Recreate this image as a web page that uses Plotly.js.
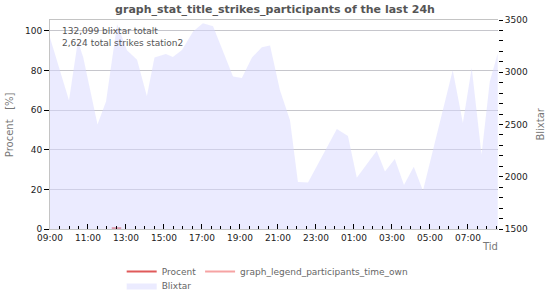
<!DOCTYPE html>
<html>
<head>
<meta charset="utf-8">
<script src="https://cdn.plot.ly/plotly-3.0.1.min.js"></script>
<style>html,body{margin:0;padding:0;background:#fff;}#chart{width:550px;height:300px;}</style>
</head>
<body>
<div id="chart"></div>
<script>
// Blixtar (strikes) over the last 24h, right axis
const blixtarTimes = [
  "2024-01-01 09:00","2024-01-01 10:00","2024-01-01 10:28","2024-01-01 10:45","2024-01-01 11:30",
  "2024-01-01 11:57","2024-01-01 12:32","2024-01-01 13:03","2024-01-01 13:35","2024-01-01 14:06",
  "2024-01-01 14:30","2024-01-01 15:06","2024-01-01 15:28","2024-01-01 15:57","2024-01-01 16:32",
  "2024-01-01 17:03","2024-01-01 17:35","2024-01-01 18:38","2024-01-01 19:06","2024-01-01 19:38",
  "2024-01-01 20:09","2024-01-01 20:35","2024-01-01 21:06","2024-01-01 21:38","2024-01-01 22:03",
  "2024-01-01 22:35","2024-01-02 00:06","2024-01-02 00:41","2024-01-02 01:09","2024-01-02 02:12",
  "2024-01-02 02:38","2024-01-02 03:09","2024-01-02 03:38","2024-01-02 04:09","2024-01-02 04:38",
  "2024-01-02 06:12","2024-01-02 06:44","2024-01-02 07:12","2024-01-02 07:43","2024-01-02 08:09",
  "2024-01-02 08:34"
];
const blixtarValues = [
  3330, 2730, 3300, 3140, 2500,
  2720, 3460, 3210, 3120, 2770,
  3140, 3175, 3146, 3213, 3390,
  3470, 3440, 2960, 2945, 3140,
  3240, 3255, 2830, 2540, 1950,
  1945, 2457, 2390, 1990, 2250,
  2050, 2170, 1920, 2095, 1865,
  3020, 2515, 3040, 2210, 2910,
  3180
];
// Procent (participants), left axis
const procentTimes = ["2024-01-01 12:15","2024-01-01 12:45"];
const procentValues = [0.4, 0.4];
// own participation time (no data in window)
const ownTimes = ["2024-01-01 09:00"];
const ownValues = [null];

const xTicks = {start: "2024-01-01 09:00", end: "2024-01-02 08:35"};
const leftRange = [0, 105.5];
const rightRange = [1500, 3500];

const font = "DejaVu Sans, sans-serif";
const legFont = {family: font, size: 9, color: "#666"};

const traces = [
  {x: procentTimes, y: procentValues, name: "Procent", type: "scatter", mode: "lines",
   line: {color: "#e05a5a", width: 2}, yaxis: "y", legend: "legend"},
  {x: ownTimes, y: ownValues, name: "graph_legend_participants_time_own", type: "scatter", mode: "lines",
   line: {color: "#f6a3a3", width: 2}, yaxis: "y", legend: "legend3"},
  {x: blixtarTimes, y: blixtarValues, name: "Blixtar", type: "scatter", mode: "lines",
   fill: "tozeroy", fillcolor: "rgba(215,215,255,0.5)", line: {width: 0, color: "rgba(0,0,0,0)"},
   yaxis: "y2", legend: "legend2"}
];

const layout = {
  width: 550, height: 300,
  margin: {l: 50, r: 52, t: 20, b: 71, autoexpand: false},
  paper_bgcolor: "#fff", plot_bgcolor: "#fff",
  font: {family: font, size: 9, color: "#222"},
  title: {text: "graph_stat_title_strikes_participants of the last 24h",
          font: {family: font, size: 11, color: "#555", weight: "bold"},
          x: 0.5, xanchor: "center", y: 0.97, yanchor: "middle", yref: "container"},
  showlegend: true,
  xaxis: {type: "date", range: [xTicks.start, xTicks.end], tickformat: "%H:%M",
          tick0: xTicks.start, dtick: 7200000, ticks: "inside", ticklen: 5, tickcolor: "#000",
          minor: {dtick: 1800000, ticks: "inside", ticklen: 3, tickcolor: "#000"},
          showgrid: false, showline: true, linecolor: "#c4c4c4", mirror: true, zeroline: false,
          tickfont: {family: font, size: 9, color: "#222"}},
  yaxis: {range: leftRange, dtick: 20, ticks: "outside", ticklen: 5, tickcolor: "#000",
          showgrid: true, gridcolor: "#c6c6cc", showline: true, linecolor: "#c4c4c4", zeroline: false,
          tickfont: {family: font, size: 9, color: "#222"}},
  yaxis2: {range: rightRange, dtick: 500, overlaying: "y", side: "right", ticks: "outside",
           ticklen: 4, tickcolor: "#000", showgrid: false, zeroline: false, showline: false,
           minor: {dtick: 100, ticks: "outside", ticklen: 4, tickcolor: "#000"},
           tickfont: {family: font, size: 9, color: "#222"}},
  legend: {orientation: "h", x: 0.16, xanchor: "left", y: -0.134, yanchor: "top", yref: "paper",
           font: legFont, bgcolor: "rgba(0,0,0,0)", itemwidth: 30},
  legend3: {orientation: "h", x: 0.335, xanchor: "left", y: -0.134, yanchor: "top", yref: "paper",
           font: legFont, bgcolor: "rgba(0,0,0,0)", itemwidth: 30},
  legend2: {orientation: "h", x: 0.16, xanchor: "left", y: -0.201, yanchor: "top", yref: "paper",
            font: legFont, bgcolor: "rgba(0,0,0,0)", itemwidth: 30},
  annotations: [
    {text: "132,099 blixtar totalt<br>2,624 total strikes station2", xref: "paper", yref: "paper",
     x: 0.022, y: 0.917, xanchor: "left", yanchor: "middle", align: "left", showarrow: false,
     font: {family: font, size: 9, color: "#555"}},
    {text: "Procent&nbsp;&nbsp;&nbsp;[%]", xref: "paper", yref: "paper", x: -0.09, y: 0.5,
     textangle: -90, showarrow: false, xanchor: "center", yanchor: "middle",
     font: {family: font, size: 10, color: "#777"}},
    {text: "Blixtar", xref: "paper", yref: "paper", x: 1.094, y: 0.5,
     textangle: -90, showarrow: false, xanchor: "center", yanchor: "middle",
     font: {family: font, size: 10, color: "#777"}},
    {text: "Tid", xref: "paper", yref: "paper", x: 0.982, y: -0.086,
     showarrow: false, xanchor: "center", yanchor: "middle",
     font: {family: font, size: 10, color: "#777"}}
  ]
};

Plotly.newPlot("chart", traces, layout, {staticPlot: true, displayModeBar: false});
</script>
</body>
</html>
